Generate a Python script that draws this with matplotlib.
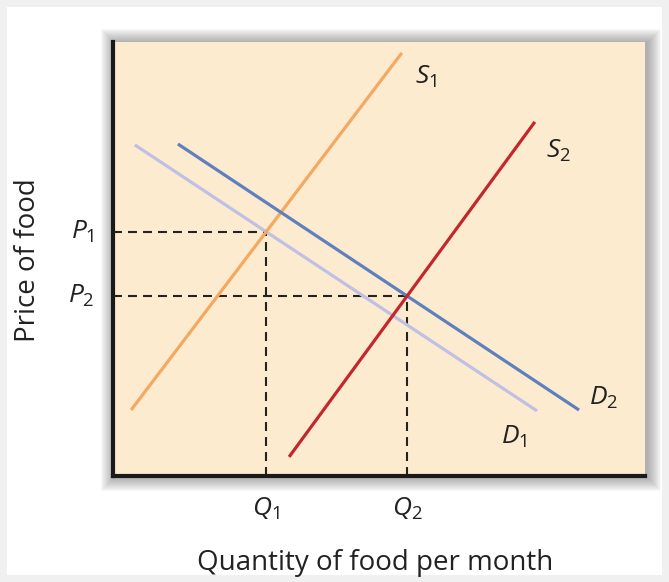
import matplotlib
matplotlib.use("Agg")
import matplotlib.pyplot as plt
from matplotlib.patches import Rectangle

plt.rcParams['font.family'] = ['Open Sans', 'DejaVu Sans']
plt.rcParams['mathtext.fontset'] = 'custom'
plt.rcParams['mathtext.it'] = 'Open Sans:italic'
plt.rcParams['mathtext.rm'] = 'Open Sans'

# curve end points (quantity, price) on a 0-100 scale
s1_q = [3.4, 54.3]
s1_p = [15.2, 97.5]
s2_q = [33.1, 79.3]
s2_p = [4.4, 81.6]
d1_q = [4.1, 79.7]
d1_p = [76.3, 15.0]
d2_q = [12.2, 87.6]
d2_p = [76.5, 15.2]

curve_labels = ['$S_1$', '$S_2$', '$D_1$', '$D_2$']
label_q = [58.8, 83.8, 75.3, 92.3]
label_p = [92.0, 75.0, 9.0, 18.0]


def meet(q_a, p_a, q_b, p_b):
    ma = (p_a[1] - p_a[0]) / (q_a[1] - q_a[0])
    mb = (p_b[1] - p_b[0]) / (q_b[1] - q_b[0])
    q = (p_b[0] - mb * q_b[0] - p_a[0] + ma * q_a[0]) / (ma - mb)
    return q, p_a[0] + ma * (q - q_a[0])


q1, p1 = meet(s1_q, s1_p, d1_q, d1_p)
q2, p2 = meet(s2_q, s2_p, d2_q, d2_p)

fig = plt.figure(figsize=(6.69, 5.82), dpi=100)
fig.patch.set_facecolor('white')

# light grey frame round the picture
fig.patches.append(Rectangle((0, 0), 1, 1, transform=fig.transFigure, fill=False,
                             edgecolor='#f0f0f0', linewidth=10, zorder=-10))

left, bottom, width, height = 113 / 669, 1 - 476 / 582, 532 / 669, 434 / 582

# soft shadow behind the plot box
for i in range(14):
    dx, dy = (i + 1) / 669, (i + 1) / 582
    fig.patches.append(Rectangle((left - dx + 2 / 669, bottom - dy - 1 / 582),
                                 width + 2 * dx, height + 2 * dy,
                                 transform=fig.transFigure, facecolor='#555555',
                                 edgecolor='none', alpha=0.04, zorder=-5))

ax = fig.add_axes([left, bottom, width, height])
ax.set_facecolor('#fdebd0')
ax.set_xlim(0, 100)
ax.set_ylim(0, 100)
ax.set_xticks([])
ax.set_yticks([])
for side in ['top', 'right']:
    ax.spines[side].set_visible(False)
for side in ['left', 'bottom']:
    ax.spines[side].set_linewidth(3)
    ax.spines[side].set_color('#1a1a1a')

dash = dict(color='#222222', linewidth=1.5, linestyle=(0, (4.3, 2.9)))
ax.plot([0, q1], [p1, p1], **dash)
ax.plot([q1, q1], [0, p1], **dash)
ax.plot([0, q2], [p2, p2], **dash)
ax.plot([q2, q2], [0, p2], **dash)

ax.plot(d1_q, d1_p, color='#bfc0e4', linewidth=2.3, solid_capstyle='butt')
ax.plot(s1_q, s1_p, color='#f4a860', linewidth=2.3, solid_capstyle='butt')
ax.plot(d2_q, d2_p, color='#5f7fbf', linewidth=2.3, solid_capstyle='butt')
ax.plot(s2_q, s2_p, color='#c4262e', linewidth=2.3, solid_capstyle='butt')

fs = 19
for lab, q, p in zip(curve_labels, label_q, label_p):
    ax.text(q, p, lab, fontsize=fs, color='#222222', ha='center', va='center')

ax.text(-3.5, p1, '$P_1$', fontsize=fs, color='#222222', ha='right', va='center', clip_on=False)
ax.text(-3.5, p2, '$P_2$', fontsize=fs, color='#222222', ha='right', va='center', clip_on=False)
ax.text(q1, -4.5, '$Q_1$', fontsize=fs, color='#222222', ha='center', va='top', clip_on=False)
ax.text(q2, -4.5, '$Q_2$', fontsize=fs, color='#222222', ha='center', va='top', clip_on=False)

fig.text(375 / 669, 1 - 563 / 582, 'Quantity of food per month', fontsize=20,
         color='#222222', ha='center', va='center')
fig.text(28 / 669, 1 - 260 / 582, 'Price of food', fontsize=20, color='#222222',
         ha='center', va='center', rotation=90)

fig.savefig('out.png', dpi=100)
